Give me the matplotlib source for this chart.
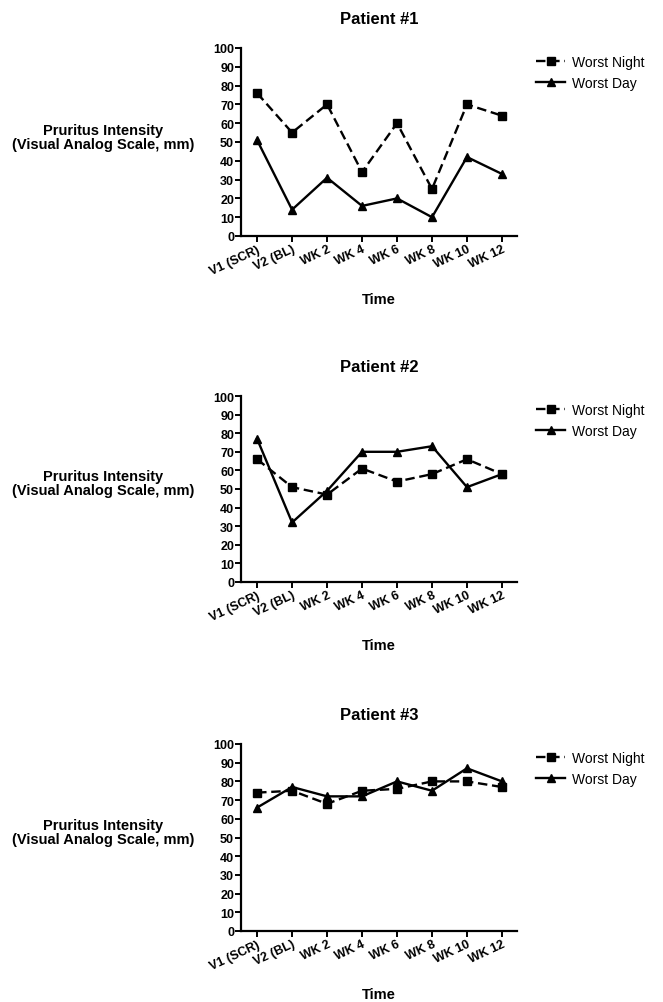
import matplotlib
matplotlib.use("Agg")
import matplotlib.pyplot as plt

plt.rcParams['font.family'] = ['Liberation Sans', 'DejaVu Sans']

time_labels = ["V1 (SCR)", "V2 (BL)", "WK 2", "WK 4", "WK 6", "WK 8", "WK 10", "WK 12"]
patients = ["Patient #1", "Patient #2", "Patient #3"]
night_p1 = [76, 55, 70, 34, 60, 25, 70, 64]
day_p1 = [51, 14, 31, 16, 20, 10, 42, 33]
night_p2 = [66, 51, 47, 61, 54, 58, 66, 58]
day_p2 = [77, 32, 49, 70, 70, 73, 51, 58]
night_p3 = [74, 75, 68, 75, 76, 80, 80, 77]
day_p3 = [66, 77, 72, 72, 80, 75, 87, 80]
yticks = list(range(0, 101, 10))

W, H = 663, 1003
fig = plt.figure(figsize=(W / 100, H / 100), dpi=100)

# pixel layout: (y of 0, y of 100)
panels = [(237, 49), (583, 397), (932, 745)]
data = [(night_p1, day_p1), (night_p2, day_p2), (night_p3, day_p3)]
x_left, x_right = 241, 517

for i, ((y0, y100), (night, day)) in enumerate(zip(panels, data)):
    ax = fig.add_axes([x_left / W, 1 - y0 / H, (x_right - x_left) / W, (y0 - y100) / H])
    xs = list(range(len(time_labels)))
    ax.plot(xs, night, color='black', lw=1.7, linestyle=(0, (4, 2)),
            marker='s', markersize=5.5, label='Worst Night')
    ax.plot(xs, day, color='black', lw=1.7, linestyle='-',
            marker='^', markersize=5.5, label='Worst Day')
    ax.set_xlim(-0.46, 7.43)
    ax.set_ylim(0, 100)
    ax.set_yticks(yticks)
    ax.set_xticks(xs)
    ax.set_xticklabels(time_labels, rotation=25, ha='right', va='top',
                       rotation_mode='anchor', fontsize=9, fontweight='bold')
    for lab in ax.get_yticklabels():
        lab.set_fontweight('bold')
        lab.set_fontsize(9)
    ax.spines['top'].set_visible(False)
    ax.spines['right'].set_visible(False)
    ax.spines['left'].set_linewidth(1.6)
    ax.spines['bottom'].set_linewidth(1.6)
    ax.tick_params(axis='both', direction='out', length=4, width=1.4, pad=1)
    ax.set_title(patients[i], fontsize=12, fontweight='bold', pad=18)
    ax.set_xlabel("Time", fontsize=10.5, fontweight='bold', labelpad=11)
    fig.text(103 / W, 1 - (y0 - 99) / H, "Pruritus Intensity\n(Visual Analog Scale, mm)",
             ha='center', va='center', multialignment='center', fontsize=10.5,
             fontweight='bold', linespacing=1.0)
    ax.legend(loc='upper left', bbox_to_anchor=(536 / W, 1 - (y100 + 7) / H),
              bbox_transform=fig.transFigure, frameon=False, fontsize=10,
              handlelength=2.1, handletextpad=0.5, labelspacing=0.5, borderpad=0,
              borderaxespad=0)

fig.savefig("out.png", dpi=100, facecolor='white')
